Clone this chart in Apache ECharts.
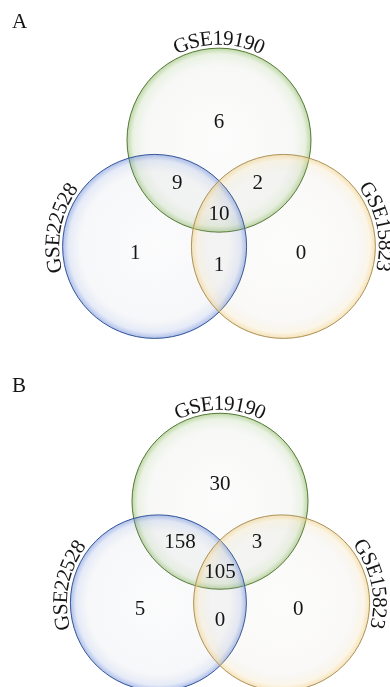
<!DOCTYPE html>
<html>
<head>
<meta charset="utf-8">
<script src="https://cdn.jsdelivr.net/npm/echarts/dist/echarts.min.js"></script>
<style>
  html, body { margin: 0; padding: 0; background: #ffffff; }
  #chart { width: 390px; height: 687px; }
</style>
</head>
<body>
<div id="chart"></div>
<script>
// Gene-set overlaps of three GEO datasets, two comparisons (A and B)
const setNames = ['GSE19190', 'GSE22528', 'GSE15823'];
const panelLetters = ['A', 'B'];
const regionNames = [
  'GSE19190 only',
  'GSE19190 & GSE22528',
  'GSE19190 & GSE15823',
  'GSE19190 & GSE22528 & GSE15823',
  'GSE22528 only',
  'GSE22528 & GSE15823',
  'GSE15823 only'
];
const countsA = [6, 9, 2, 10, 1, 1, 0];
const countsB = [30, 158, 3, 105, 5, 0, 0];

// Venn layout in circle-radius units (y pointing up)
const circleCenters = [[0, 0.77], [-0.70, -0.385], [0.70, -0.385]];
const nameAngles = [90, 169, 12];          // degrees on each circle where its name is centred
const regionAnchors = [
  [0, 0.96], [-0.455, 0.30], [0.42, 0.30], [0, -0.04],
  [-0.91, -0.46], [0, -0.59], [0.89, -0.46]
];
// each panel: pixel band it occupies, pixel position of the layout origin, pixels per unit
const panelFrames = [
  { top: 0, height: 360, ox: 219, oy: 211, unit: 92, letterTop: 12 },
  { top: 360, height: 327, ox: 220, oy: 569, unit: 88, letterTop: 376 }
];
const pageWidth = 390;

const setStyles = [
  { stroke: '#557a36', glow: '140,185,100', body: '150,165,140' },
  { stroke: '#36579a', glow: '110,140,215', body: '140,150,175' },
  { stroke: '#ad925a', glow: '238,205,130', body: '175,168,150' }
];
const serifFont = '"Liberation Serif", "Times New Roman", serif';
const nameFontSize = 21;
const countFontSize = 21;

const measureCtx = document.createElement('canvas').getContext('2d');
measureCtx.font = nameFontSize + 'px ' + serifFont;

function renderCircle(params, api) {
  const s = api.value(3);
  const c = api.coord([api.value(0), api.value(1)]);
  const r = api.size([api.value(2), 0])[0];
  const g = setStyles[s].glow;
  const b = setStyles[s].body;
  return {
    type: 'circle',
    shape: { cx: c[0], cy: c[1], r: r },
    style: {
      fill: {
        type: 'radial', x: 0.5, y: 0.5, r: 0.5,
        colorStops: [
          { offset: 0, color: 'rgba(' + b + ',0.03)' },
          { offset: 0.80, color: 'rgba(' + b + ',0.07)' },
          { offset: 0.93, color: 'rgba(' + g + ',0.18)' },
          { offset: 0.985, color: 'rgba(' + g + ',0.50)' },
          { offset: 1, color: 'rgba(' + g + ',0.80)' }
        ]
      },
      stroke: setStyles[s].stroke,
      lineWidth: 1
    }
  };
}

// set name written letter by letter along the outside of its circle
function renderName(params, api) {
  const s = api.value(3);
  const c = api.coord([api.value(0), api.value(1)]);
  const r = api.size([api.value(2), 0])[0];
  const R = r + 9;
  const text = setNames[s];
  const widths = Array.from(text).map(ch => measureCtx.measureText(ch).width);
  const total = widths.reduce((a, b) => a + b, 0);
  const theta0 = api.value(4) * Math.PI / 180;
  let acc = 0;
  const children = Array.from(text).map((ch, k) => {
    const d = acc + widths[k] / 2 - total / 2;
    acc += widths[k];
    const th = theta0 - d / R;
    return {
      type: 'text',
      x: c[0] + R * Math.cos(th),
      y: c[1] - R * Math.sin(th),
      rotation: th - Math.PI / 2,
      style: {
        text: ch,
        fontSize: nameFontSize,
        fontFamily: serifFont,
        fill: '#151515',
        align: 'center',
        verticalAlign: 'middle'
      }
    };
  });
  return { type: 'group', children: children };
}

function renderCount(params, api) {
  const c = api.coord([api.value(0), api.value(1)]);
  return {
    type: 'text',
    x: c[0],
    y: c[1],
    style: {
      text: String(api.value(2)),
      fontSize: countFontSize,
      fontFamily: serifFont,
      fill: '#151515',
      align: 'center',
      verticalAlign: 'middle'
    }
  };
}

const grids = [], xAxes = [], yAxes = [], titles = [], series = [];
[countsA, countsB].forEach((counts, p) => {
  const f = panelFrames[p];
  grids.push({
    left: 0, top: f.top, width: pageWidth, height: f.height,
    containLabel: false, outerBoundsMode: 'none'
  });
  xAxes.push({
    gridIndex: p, type: 'value', show: false,
    min: -f.ox / f.unit, max: (pageWidth - f.ox) / f.unit
  });
  yAxes.push({
    gridIndex: p, type: 'value', show: false,
    min: -(f.top + f.height - f.oy) / f.unit, max: (f.oy - f.top) / f.unit
  });
  titles.push({
    text: panelLetters[p], left: 12, top: f.letterTop, padding: 0,
    textStyle: { fontFamily: serifFont, fontSize: 21, fontWeight: 'normal', color: '#151515' }
  });
  const circleData = setNames.map((n, s) => [circleCenters[s][0], circleCenters[s][1], 1, s, nameAngles[s]]);
  series.push({
    type: 'custom', name: 'sets ' + panelLetters[p], xAxisIndex: p, yAxisIndex: p,
    renderItem: renderCircle, data: circleData, silent: true, clip: false
  });
  series.push({
    type: 'custom', name: 'names ' + panelLetters[p], xAxisIndex: p, yAxisIndex: p,
    renderItem: renderName, data: circleData, silent: true, clip: false, z: 3
  });
  series.push({
    type: 'custom', name: 'counts ' + panelLetters[p], xAxisIndex: p, yAxisIndex: p,
    renderItem: renderCount, silent: true, clip: false, z: 4,
    data: counts.map((v, k) => [regionAnchors[k][0], regionAnchors[k][1], v])
  });
});

const chart = echarts.init(document.getElementById('chart'), null, { renderer: 'canvas' });
chart.setOption({
  backgroundColor: '#ffffff',
  animation: false,
  title: titles,
  grid: grids,
  xAxis: xAxes,
  yAxis: yAxes,
  series: series
});
</script>
</body>
</html>
